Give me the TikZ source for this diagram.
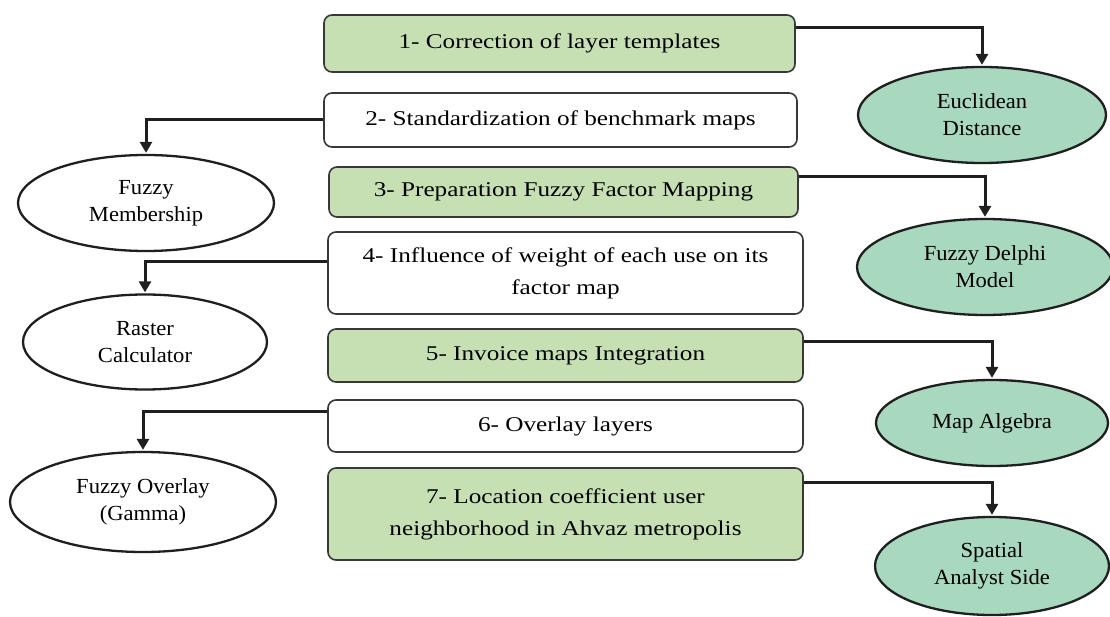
\documentclass[tikz,border=0pt]{standalone}
\usepackage{fontspec}
\setmainfont{Liberation Serif}
\newfontfamily\boxfnt[FakeStretch=1.2]{Liberation Serif}
\newfontfamily\ellfnt[FakeStretch=1.05]{Liberation Serif}
\usetikzlibrary{shapes.geometric,arrows.meta}
\definecolor{boxgreen}{RGB}{198,224,180}
\definecolor{ellteal}{RGB}{168,216,190}
\tikzset{
 stepbox/.style={draw=black!78, line width=1.6pt, rounded corners=8pt, align=center, inner sep=0pt, font=\boxfnt\fontsize{21}{32}\selectfont},
 greenbox/.style={stepbox, fill=boxgreen},
 whitebox/.style={stepbox, fill=white},
 tool/.style={ellipse, draw=black!88, line width=2.3pt, align=center, inner sep=0pt, font=\ellfnt\fontsize{21.5}{27}\selectfont},
 tealtool/.style={tool, fill=ellteal},
 whitetool/.style={tool, fill=white},
 conn/.style={draw=black!88, line width=3pt, -{Triangle[width=12pt,length=11pt]}, shorten >=1pt}
}
\begin{document}
\begin{tikzpicture}[x=1pt,y=-1pt]
\useasboundingbox[fill=white] (0,0) rectangle (1110,617);
% step boxes
\node[greenbox, minimum width=471pt, minimum height=57pt] (b1) at (559.5,43.5) {1- Correction of layer templates};
\node[whitebox, minimum width=473pt, minimum height=54pt] (b2) at (560.5,120) {2- Standardization of benchmark maps};
\node[greenbox, minimum width=469pt, minimum height=50pt] (b3) at (563.5,192) {3- Preparation Fuzzy Factor Mapping};
\node[whitebox, minimum width=475pt, minimum height=82pt] (b4) at (565.5,273) {4- Influence of weight of each use on its\\factor map};
\node[greenbox, minimum width=475pt, minimum height=53pt] (b5) at (565.5,355.5) {5- Invoice maps Integration};
\node[whitebox, minimum width=475pt, minimum height=52pt] (b6) at (565.5,426) {6- Overlay layers};
\node[greenbox, minimum width=475pt, minimum height=92pt] (b7) at (565.5,514) {7- Location coefficient user\\neighborhood in Ahvaz metropolis};
% tools
\node[tealtool, minimum width=248pt, minimum height=96pt] (e1) at (982,115) {Euclidean\\Distance};
\node[whitetool, minimum width=256pt, minimum height=96pt] (e2) at (146,203) {Fuzzy\\Membership};
\node[tealtool, minimum width=256pt, minimum height=96pt] (e3) at (985,267) {Fuzzy Delphi\\Model};
\node[whitetool, minimum width=244pt, minimum height=95pt] (e4) at (145,342) {Raster\\Calculator};
\node[tealtool, minimum width=232pt, minimum height=86pt] (e5) at (992,423) {Map Algebra};
\node[whitetool, minimum width=266pt, minimum height=100pt] (e6) at (143,502) {Fuzzy Overlay\\(Gamma)};
\node[tealtool, minimum width=234pt, minimum height=98pt] (e7) at (992,566) {Spatial\\Analyst Side};
% connectors
\draw[conn] ([yshift=-13pt]b1.north east) -| (e1.north);
\draw[conn] (b2.west) -| (e2.north);
\draw[conn] ([yshift=-10pt]b3.north east) -| (e3.north);
\draw[conn] ([yshift=-30pt]b4.north west) -| (e4.north);
\draw[conn] ([yshift=-13pt]b5.north east) -| (e5.north);
\draw[conn] ([yshift=-12pt]b6.north west) -| (e6.north);
\draw[conn] ([yshift=-15pt]b7.north east) -| (e7.north);
\end{tikzpicture}
\end{document}
